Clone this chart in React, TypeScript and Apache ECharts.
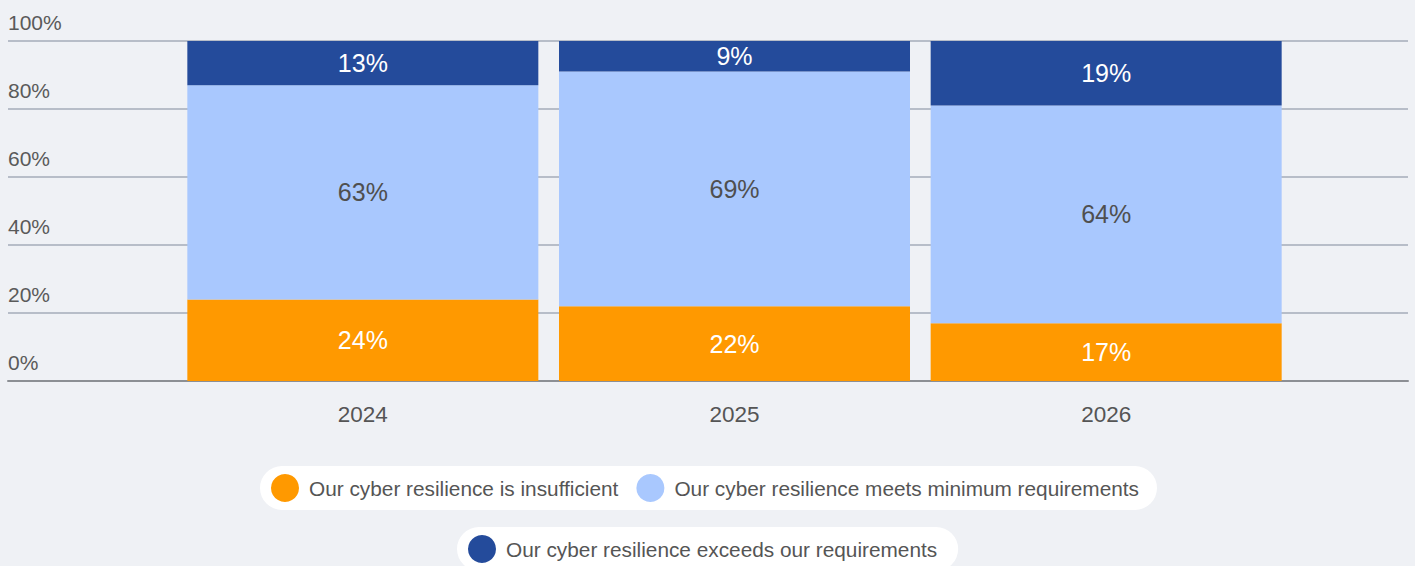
import React, { useEffect, useRef } from "react";
import * as echarts from "echarts";

const categories = ["2024", "2025", "2026"];
const insufficient = [24, 22, 17];
const meetsMinimum = [63, 69, 64];
const exceeds = [13, 9, 19];
const seriesNames = [
  "Our cyber resilience is insufficient",
  "Our cyber resilience meets minimum requirements",
  "Our cyber resilience exceeds our requirements",
];
const FONT = "'Liberation Sans', Arial, sans-serif";

export default function App() {
  const ref = useRef<HTMLDivElement>(null);
  useEffect(() => {
    if (!ref.current) return;
    const chart = echarts.init(ref.current, null, { renderer: "svg" });
    const labelFmt = (p: any) => p.value + "%";
    const mkSeries = (name: string, data: number[], color: string, labelColor: string) => ({
      name,
      type: "bar",
      stack: "total",
      xAxisIndex: 1,
      yAxisIndex: 1,
      barWidth: 351,
      data,
      itemStyle: { color },
      label: {
        show: true,
        position: "inside",
        formatter: labelFmt,
        color: labelColor,
        fontSize: 25,
        fontFamily: FONT,
      },
    });
    chart.setOption({
      animation: false,
      backgroundColor: "#eff1f5",
      textStyle: { fontFamily: FONT },
      grid: [
        { left: 8, right: 7, top: 41, height: 340 },
        { left: 177, width: 1115, top: 41, height: 340 },
      ],
      xAxis: [
        {
          gridIndex: 0,
          type: "value",
          min: 0,
          max: 1,
          axisLabel: { show: false },
          axisTick: { show: false },
          splitLine: { show: false },
          axisLine: { show: true, lineStyle: { color: "#8c8f94", width: 2 } },
        },
        {
          gridIndex: 1,
          type: "category",
          data: categories,
          axisLine: { show: false },
          axisTick: { show: false },
          axisLabel: { color: "#555555", fontSize: 22.5, margin: 22, fontFamily: FONT },
        },
      ],
      yAxis: [
        {
          gridIndex: 0,
          type: "value",
          min: 0,
          max: 100,
          interval: 20,
          axisLine: { show: false },
          axisTick: { show: false },
          splitLine: { show: true, lineStyle: { color: "#b7bdc8", width: 2 } },
          axisLabel: {
            inside: true,
            margin: 0,
            formatter: "{value}%",
            color: "#5a5a5a",
            fontSize: 21,
            verticalAlign: "bottom",
            padding: [0, 0, 8, 0],
            fontFamily: FONT,
          },
        },
        { gridIndex: 1, type: "value", min: 0, max: 100, show: false },
      ],
      legend: [
        {
          data: [seriesNames[0], seriesNames[1]],
          left: 260,
          top: 466,
          orient: "horizontal",
          backgroundColor: "#ffffff",
          borderRadius: 23,
          padding: [8, 18, 8, 11],
          icon: "circle",
          itemWidth: 28,
          itemHeight: 28,
          itemGap: 18,
          selectedMode: false,
          textStyle: { fontSize: 20.8, color: "#555555", padding: [0, 0, 0, 5], fontFamily: FONT },
        },
        {
          data: [seriesNames[2]],
          left: 457,
          top: 527,
          orient: "horizontal",
          backgroundColor: "#ffffff",
          borderRadius: 23,
          padding: [8, 21, 8, 11],
          icon: "circle",
          itemWidth: 28,
          itemHeight: 28,
          selectedMode: false,
          textStyle: { fontSize: 20.8, color: "#555555", padding: [0, 0, 0, 5], fontFamily: FONT },
        },
      ],
      series: [
        mkSeries(seriesNames[0], insufficient, "#ff9900", "#ffffff"),
        mkSeries(seriesNames[1], meetsMinimum, "#a9c8fe", "#4f4f4f"),
        mkSeries(seriesNames[2], exceeds, "#244b9b", "#ffffff"),
      ],
    });
    return () => chart.dispose();
  }, []);
  return (
    <div
      ref={ref}
      style={{ position: "fixed", left: 0, top: 0, width: 1415, height: 566 }}
    />
  );
}
